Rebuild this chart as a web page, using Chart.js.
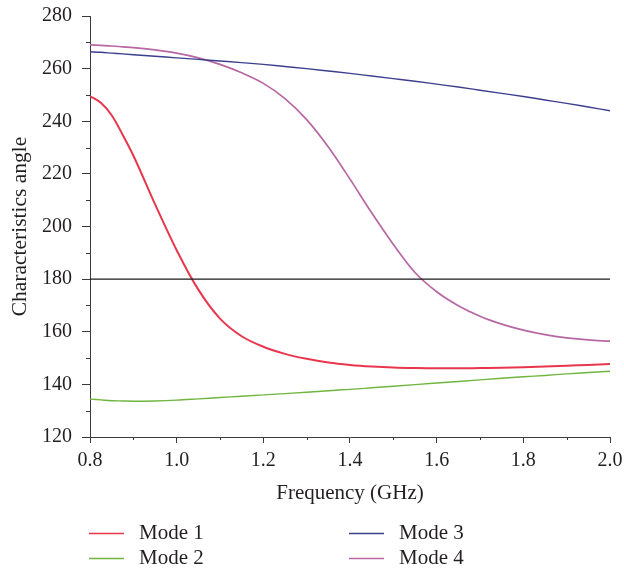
<!DOCTYPE html>
<html>
<head>
<meta charset="utf-8">
<title>Characteristics angle</title>
<script src="https://cdn.jsdelivr.net/npm/chart.js@4.4.1/dist/chart.umd.min.js"></script>
<style>
  html, body { margin: 0; padding: 0; background: #fff; }
  #wrap { width: 624px; height: 571px; }
</style>
</head>
<body>
<div id="wrap"><canvas id="angleChart" width="624" height="571"></canvas></div>
<script>
// frequency samples (GHz), denser at the low end where mode 1 bends fast
const freq = [0.800, 0.825, 0.850, 0.875, 0.900, 0.95, 1.00, 1.05, 1.10, 1.15, 1.20, 1.25, 1.30, 1.35, 1.40,
              1.45, 1.50, 1.55, 1.60, 1.65, 1.70, 1.75, 1.80, 1.85, 1.90, 1.95, 2.00];

// characteristic angle of each mode (degrees)
const mode1 = [249.5, 247.0, 242.3, 235.0, 227.0, 208.5, 191.0, 176.0, 165.0, 158.3, 154.3, 151.6, 149.7, 148.3, 147.4,
               146.8, 146.4, 146.2, 146.1, 146.1, 146.2, 146.3, 146.5, 146.8, 147.1, 147.4, 147.7];
const mode2 = [134.4, 134.1, 133.8, 133.7, 133.6, 133.7, 134.0, 134.5, 135.0, 135.5, 136.0, 136.5, 137.0, 137.6, 138.1,
               138.7, 139.3, 139.9, 140.5, 141.1, 141.7, 142.3, 142.9, 143.4, 144.0, 144.5, 145.0];
const mode3 = [266.4, 266.2, 265.9, 265.6, 265.3, 264.7, 264.1, 263.5, 262.9, 262.3, 261.6, 260.8, 260.0, 259.1, 258.2,
               257.2, 256.2, 255.2, 254.1, 253.0, 251.8, 250.6, 249.4, 248.1, 246.8, 245.4, 244.0];
const mode4 = [269.0, 268.8, 268.6, 268.3, 268.0, 267.1, 265.9, 264.1, 261.6, 258.4, 254.4, 248.6, 240.6, 230.2, 218.0,
               205.2, 193.2, 182.5, 175.2, 169.9, 165.9, 162.9, 160.6, 158.9, 157.7, 156.9, 156.4];

// 180 degree reference (resonance line)
const refAngle = 180;

const xTicks = { min: 0.8, max: 2.0, step: 0.2 };
const yTicks = { min: 120, max: 280, step: 20 };

const SERIF = '"Liberation Serif", "DejaVu Serif", serif';
const TEXT = '#231f20';
const AXIS = '#3a3a3a';

const toPoints = (ys) => freq.map((f, i) => ({ x: f, y: ys[i] }));

const modeStyle = (label, values, color, width) => ({
    label,
    data: toPoints(values),
    borderColor: color,
    backgroundColor: color,
    borderWidth: width,
    pointRadius: 0,
    fill: false,
    cubicInterpolationMode: 'monotone'
});

// small minor ticks between the labelled ones
const minorTicks = {
    id: 'minorTicks',
    afterDraw(chart) {
        const ctx = chart.ctx;
        const xs = chart.scales.x, ys = chart.scales.y;
        const area = chart.chartArea;
        ctx.save();
        ctx.strokeStyle = AXIS;
        ctx.lineWidth = 1;
        ctx.beginPath();
        for (let v = yTicks.min + yTicks.step / 2; v < yTicks.max; v += yTicks.step) {
            const py = Math.round(ys.getPixelForValue(v)) + 0.5;
            ctx.moveTo(area.left - 4, py);
            ctx.lineTo(area.left, py);
        }
        for (let v = xTicks.min + xTicks.step / 2; v < xTicks.max; v += xTicks.step) {
            const px = Math.round(xs.getPixelForValue(v)) + 0.5;
            ctx.moveTo(px, area.bottom);
            ctx.lineTo(px, area.bottom + 3);
        }
        ctx.stroke();
        ctx.restore();
    }
};

// two-column legend under the axis title
const modeLegend = {
    id: 'modeLegend',
    afterDraw(chart) {
        const ctx = chart.ctx;
        const items = chart.data.datasets.filter(d => d.label.startsWith('Mode'));
        const cols = [89, 349];
        const rows = [533, 558];
        ctx.save();
        ctx.font = '21px ' + SERIF;
        ctx.fillStyle = TEXT;
        ctx.textBaseline = 'middle';
        items.forEach((d, i) => {
            const cx = cols[Math.floor(i / 2)];
            const cy = rows[i % 2];
            ctx.strokeStyle = d.borderColor;
            ctx.lineWidth = 1.5;
            ctx.beginPath();
            ctx.moveTo(cx, cy + 0.5);
            ctx.lineTo(cx + 35, cy + 0.5);
            ctx.stroke();
            ctx.fillText(d.label, cx + 50, cy);
        });
        ctx.restore();
    }
};

const ctx = document.getElementById('angleChart').getContext('2d');
new Chart(ctx, {
    type: 'line',
    data: {
        datasets: [
            {
                label: 'ref',
                data: [{ x: xTicks.min, y: refAngle }, { x: xTicks.max, y: refAngle }],
                borderColor: '#1a1a1a',
                borderWidth: 1.2,
                pointRadius: 0,
                fill: false
            },
            modeStyle('Mode 1', mode1, '#e8374d', 2),
            modeStyle('Mode 2', mode2, '#6fb53e', 1.4),
            modeStyle('Mode 3', mode3, '#3c3f8e', 1.4),
            modeStyle('Mode 4', mode4, '#b767a2', 1.7)
        ]
    },
    options: {
        responsive: false,
        animation: false,
        events: [],
        layout: { padding: { top: 16, right: 14, bottom: 64, left: 0 } },
        plugins: {
            legend: { display: false },
            tooltip: { enabled: false }
        },
        scales: {
            x: {
                type: 'linear',
                min: xTicks.min,
                max: xTicks.max,
                afterFit: (scale) => {
                    scale.height = 70;
                    scale.paddingLeft = 0;
                    scale.paddingRight = 0;
                },
                ticks: {
                    stepSize: xTicks.step,
                    padding: 6,
                    color: TEXT,
                    font: { family: SERIF, size: 20 },
                    callback: (v) => Number(v).toFixed(1)
                },
                grid: { drawOnChartArea: false, tickLength: 6, tickColor: AXIS },
                border: { color: AXIS, width: 1 },
                title: {
                    display: true,
                    text: 'Frequency (GHz)',
                    color: TEXT,
                    font: { family: SERIF, size: 21 },
                    padding: { top: 0, bottom: 1 }
                }
            },
            y: {
                min: yTicks.min,
                max: yTicks.max,
                afterFit: (scale) => {
                    scale.width = 90;
                    scale.paddingTop = 0;
                    scale.paddingBottom = 0;
                },
                ticks: {
                    stepSize: yTicks.step,
                    padding: 10,
                    color: TEXT,
                    font: { family: SERIF, size: 20 }
                },
                grid: { drawOnChartArea: false, tickLength: 8, tickColor: AXIS },
                border: { color: AXIS, width: 1 },
                title: {
                    display: true,
                    text: 'Characteristics angle',
                    color: TEXT,
                    font: { family: SERIF, size: 21.5 },
                    padding: { top: 7, bottom: 0 }
                }
            }
        }
    },
    plugins: [minorTicks, modeLegend]
});
</script>
</body>
</html>
